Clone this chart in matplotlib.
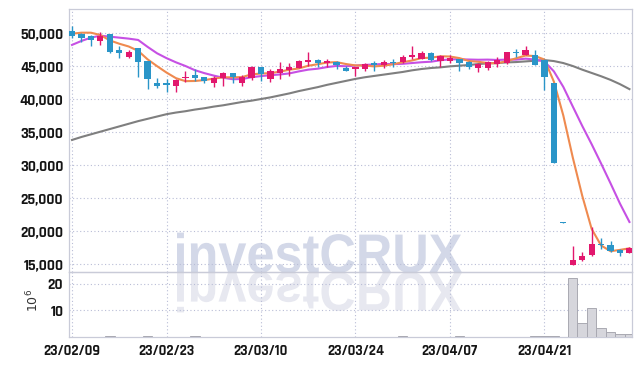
import matplotlib
matplotlib.use("Agg")
import matplotlib.pyplot as plt
import pandas as pd
from matplotlib.font_manager import FontProperties
from matplotlib.patches import PathPatch
from matplotlib.textpath import TextPath
from matplotlib.transforms import Affine2D, IdentityTransform

# trading days (KRX closed 3/1, 5/1, 5/5)
HOLIDAYS = ["2023-03-01", "2023-05-01", "2023-05-05"]
days = pd.bdate_range("2023-02-09", "2023-05-08")
days = days[~days.isin(pd.to_datetime(HOLIDAYS))]

opens = [50300, 49800, 49500, 48850, 49800, 47500, 46400, 47700, 45700, 42500,
         42400, 42000, 43250, 43650, 43300, 42450, 43200, 43900, 42500, 43250,
         44800, 43000, 44000, 44400, 44750, 45600, 45900, 45400, 45600, 44700,
         44600, 44570, 45500, 45100, 45600, 45600, 46300, 46100, 47000, 45800,
         45700, 46000, 45600, 44700, 44750, 45300, 45400, 47050, 46700, 46700,
         45900, 42450, 21300, 14900, 15600, 16400, 18100, 17900, 17150, 16700]
highs = [51000, 50000, 49700, 50150, 49850, 48000, 47400, 47800, 45800, 43200,
         43000, 43050, 44300, 44500, 43400, 43450, 44100, 44000, 43600, 45000,
         44900, 44500, 45550, 45500, 45850, 47050, 46050, 46100, 45800, 45000,
         44900, 45500, 45800, 45900, 46000, 46700, 48000, 47300, 47200, 46700,
         46600, 46100, 45700, 45500, 45700, 46300, 47200, 47600, 48000, 47500,
         46000, 42500, 21300, 17700, 16750, 20650, 18950, 18550, 17200, 17600]
lows = [49300, 48700, 48000, 48200, 47000, 46200, 46200, 43300, 41500, 41600,
        41000, 41050, 42600, 42700, 42500, 41850, 42000, 42500, 42000, 42850,
        42750, 42600, 43100, 43450, 44700, 45000, 44900, 44900, 44500, 44200,
        43450, 44300, 44300, 44700, 44800, 45400, 46100, 46000, 45700, 44900,
        45400, 44200, 44600, 44050, 44350, 44800, 45300, 46400, 46600, 45100,
        41300, 30350, 21250, 14900, 15400, 16250, 17200, 16750, 16250, 16600]
closes = [49500, 49300, 48900, 49550, 47150, 47000, 47200, 45600, 43100, 42000,
          42150, 42950, 43350, 43200, 42700, 43250, 43950, 43350, 43350, 44800,
          43850, 44250, 44500, 44800, 45750, 45900, 45400, 45800, 45100, 44300,
          44850, 45300, 45150, 45650, 45400, 46400, 46600, 47000, 45900, 46500,
          46200, 45400, 44800, 45300, 45600, 45900, 47100, 46950, 47400, 45200,
          43300, 30350, 21250, 15650, 16250, 18050, 17850, 16900, 16650, 17450]
# volume, millions of shares
volume = [0.05, 0.05, 0.05, 0.05, 0.35, 0.05, 0.05, 0.05, 0.3, 0.05,
          0.05, 0.05, 0.05, 0.3, 0.05, 0.05, 0.05, 0.05, 0.05, 0.05,
          0.05, 0.05, 0.05, 0.05, 0.05, 0.05, 0.05, 0.05, 0.05, 0.05,
          0.05, 0.05, 0.05, 0.05, 0.05, 0.3, 0.05, 0.05, 0.05, 0.05,
          0.05, 0.3, 0.05, 0.05, 0.05, 0.05, 0.05, 0.05, 0.05, 0.25,
          0.3, 0.3, 0.15, 22.3, 5.4, 10.8, 3.5, 1.9, 1.15, 1.15]
ma5 = [49900, 50050, 50050, 49700, 48880, 48380, 47960, 47300, 46010, 44980,
       44010, 43160, 42710, 42730, 42870, 43090, 43290, 43290, 43320, 43740,
       43860, 43920, 44150, 44440, 44630, 45040, 45270, 45530, 45590, 45300,
       45090, 45070, 44940, 45050, 45270, 45580, 45840, 46210, 46260, 46480,
       46440, 46200, 45760, 45640, 45460, 45400, 45740, 46170, 46590, 46510,
       45990, 42640, 37500, 31150, 25360, 20310, 17810, 16940, 17140, 17380]
ma10 = [48200, 48800, 49300, 49600, 49450, 49300, 49150, 48950, 47900, 46930,
        46195, 45560, 45005, 44370, 43925, 43550, 43225, 43000, 43025, 43305,
        43475, 43605, 43720, 43880, 44185, 44450, 44595, 44840, 45015, 44965,
        45065, 45170, 45235, 45320, 45285, 45335, 45455, 45575, 45655, 45875,
        46010, 46020, 45985, 45950, 45970, 45920, 45970, 45965, 46115, 45985,
        45695, 44190, 41835, 38870, 35935, 33150, 30225, 27220, 24145, 21370]
ma60 = [33800, 34250, 34650, 35050, 35450, 35850, 36250, 36650, 37000, 37350,
        37700, 37950, 38150, 38400, 38600, 38850, 39050, 39300, 39550, 39750,
        40000, 40250, 40550, 40850, 41200, 41500, 41800, 42150, 42450, 42750,
        43050, 43300, 43500, 43700, 43900, 44100, 44350, 44550, 44700, 44800,
        44950, 45050, 45150, 45300, 45400, 45450, 45550, 45600, 45700, 45800,
        45900, 45750, 45450, 45000, 44450, 43950, 43450, 42900, 42250, 41500]

UP, DOWN = "#e2176d", "#2a95c8"
plt.rcParams["font.family"] = ["Rajdhani", "DejaVu Sans"]
plt.rcParams["mathtext.fontset"] = "dejavusans"
YFONT = dict(fontsize=11, fontweight=700, color="#151515")
XFONT = dict(fontsize=10.5, fontweight=700, color="#151515")

W, H = 642, 366
fig = plt.figure(figsize=(W / 100, H / 100), dpi=100)
L, R = 69 / W, 632 / W
ax = fig.add_axes([L, 1 - 272 / H, R - L, (272 - 9) / H])
av = fig.add_axes([L, 1 - 337 / H, R - L, (337 - 272) / H], sharex=ax)

x = list(range(len(days)))
for a in (ax, av):
    a.set_facecolor("none")
    for s in a.spines.values():
        s.set_color("#c9cbd8")
        s.set_linewidth(0.9)
    a.grid(True, color="#b9bdd6", lw=0.8, ls=(0, (1, 2.2)))
    a.tick_params(length=0, pad=4)

# moving averages
ax.plot(x, ma60, color="#7f7f7f", lw=1.5, zorder=2)
ax.plot(x, ma10, color="#c650e4", lw=1.5, zorder=2)
ax.plot(x, ma5, color="#ef8a4f", lw=1.5, zorder=2)

# candles
cols = [UP if c >= o else DOWN for o, c in zip(opens, closes)]
ax.vlines(x, lows, highs, colors=cols, lw=1.0, zorder=3)
body = [max(abs(c - o), 120) for o, c in zip(opens, closes)]
bottom = [min(o, c) for o, c in zip(opens, closes)]
ax.bar(x, body, bottom=bottom, width=0.66, color=cols, lw=0, zorder=4)

ax.set_ylim(13790, 53640)
ax.set_yticks(range(15000, 50001, 5000))
ax.set_yticklabels([f"{v:,}" for v in range(15000, 50001, 5000)], **YFONT)
ax.set_xlim(-0.32, 59.27)
plt.setp(ax.get_xticklabels(), visible=False)

av.bar(x, volume, width=1.0, color="#d6d6dc", edgecolor="#a9a9b2", lw=0.7, zorder=3)
av.set_ylim(0, 24.4)
av.set_yticks([10, 20])
av.set_yticklabels(["10", "20"], **YFONT)
tick_idx = list(range(0, len(days), 10))
av.set_xticks(tick_idx)
av.set_xticklabels([days[i].strftime("%y/%m/%d") for i in tick_idx], **XFONT)
av.tick_params(axis="x", pad=5)
fig.text(33 / W, 1 - 300 / H, r"$10^{6}$", rotation=90, ha="center", va="center",
         fontsize=9, color="#333333", family="DejaVu Sans")

# watermark + reflection, in pixel coordinates
prop = FontProperties(family="Liberation Sans", weight="bold")
word = TextPath((0, 0), "investCRUX", size=100, prop=prop)
cap = TextPath((0, 0), "C", size=100, prop=prop).get_extents().height
bb = word.get_extents()
sx, sy = (462 - 177) / bb.width, 39 / cap
base = H - 272.5
for sign, col in ((1, "#d3d8e8"), (-1, "#e7e8f0")):
    tr = Affine2D().translate(-bb.x0, 0).scale(sx, sign * sy).translate(177, base)
    fig.add_artist(PathPatch(tr.transform_path(word), transform=IdentityTransform(),
                             facecolor=col, edgecolor="none", zorder=-1))

fig.savefig("out.png", dpi=100, facecolor="white")
